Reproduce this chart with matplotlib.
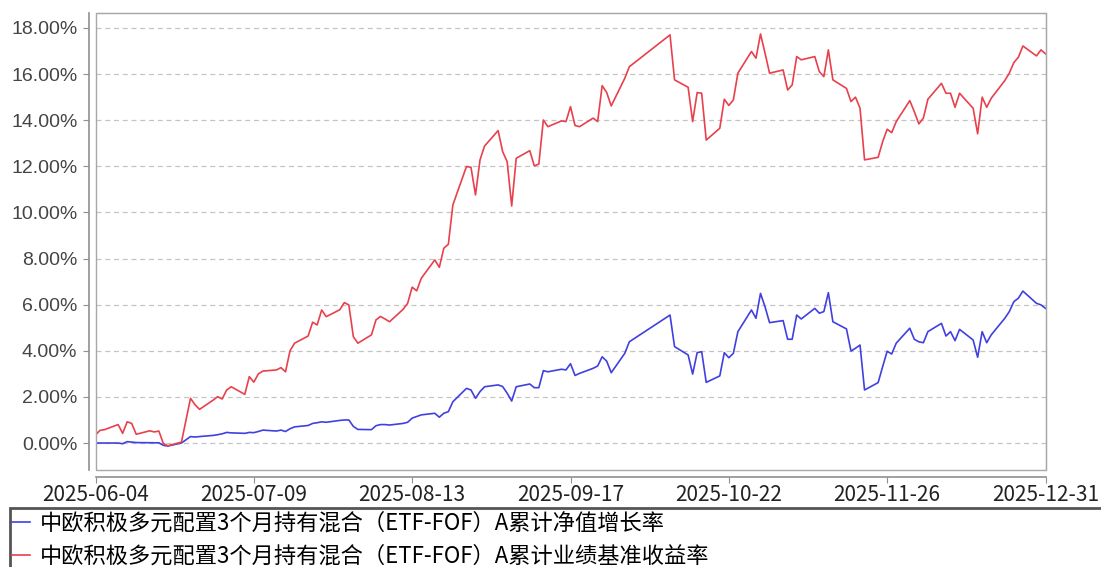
import numpy as np
import pandas as pd
import matplotlib
matplotlib.use("Agg")
import matplotlib.pyplot as plt
import matplotlib.dates as mdates
from matplotlib.patches import Rectangle
from matplotlib.ticker import FuncFormatter

plt.rcParams['font.family'] = ['Noto Sans CJK SC', 'DejaVu Sans']

# trading days 2025-06-04 .. 2025-12-31 (National Day break 10-01 .. 10-08 closed)
trade_days = pd.bdate_range('2025-06-04', '2025-12-31')
trade_days = trade_days[(trade_days < '2025-10-01') | (trade_days > '2025-10-08')]

# cumulative NAV growth (%)
nav_growth = [
    # Jun
    0.00, 0.00, 0.00, 0.00, -0.03, 0.06, 0.04, 0.02, 0.01, 0.01, 0.01, -0.10, -0.13, 0.00, 0.14, 0.28, 0.26, 0.28, 0.33,
    # Jul
    0.36, 0.40, 0.46, 0.44, 0.42, 0.46, 0.45, 0.50, 0.56, 0.52, 0.56, 0.50, 0.62, 0.70, 0.76, 0.85, 0.88, 0.92, 0.90,
    0.98, 1.00, 1.00, 0.72,
    # Aug
    0.59, 0.58, 0.75, 0.80, 0.80, 0.78, 0.85, 0.90, 1.08, 1.15, 1.22, 1.29, 1.12, 1.29, 1.36, 1.79, 2.37, 2.30, 1.94,
    2.23, 2.44,
    # Sep
    2.52, 2.45, 2.16, 1.82, 2.44, 2.56, 2.40, 2.40, 3.14, 3.09, 3.20, 3.17, 3.44, 2.93, 3.02, 3.24, 3.34, 3.74, 3.55,
    3.05, 3.89, 4.39,
    # Oct
    5.55, 4.18, 3.82, 2.99, 3.92, 3.96, 2.63, 2.91, 3.92, 3.70, 3.89, 4.83, 5.77, 5.41, 6.49, 5.91, 5.22,
    # Nov
    5.31, 4.50, 4.50, 5.55, 5.38, 5.84, 5.63, 5.70, 6.52, 5.26, 4.95, 3.99, 4.11, 4.25, 2.30, 2.62, 3.31, 3.98, 3.86,
    4.33,
    # Dec
    4.98, 4.50, 4.39, 4.35, 4.83, 5.19, 4.64, 4.83, 4.44, 4.93, 4.47, 3.72, 4.83, 4.35, 4.69, 5.41, 5.70, 6.13, 6.28,
    6.59, 6.06, 5.99, 5.84,
]

# cumulative benchmark return (%)
bench_return = [
    # Jun
    0.35, 0.55, 0.58, 0.80, 0.42, 0.92, 0.85, 0.38, 0.53, 0.48, 0.52, -0.02, -0.12, 0.04, 0.99, 1.94, 1.66, 1.46, 1.86,
    # Jul
    2.01, 1.91, 2.30, 2.44, 2.11, 2.88, 2.64, 3.00, 3.12, 3.17, 3.27, 3.09, 4.00, 4.33, 4.64, 5.24, 5.12, 5.77, 5.48,
    5.78, 6.09, 5.99, 4.61,
    # Aug
    4.33, 4.69, 5.34, 5.49, 5.38, 5.26, 5.80, 6.06, 6.76, 6.60, 7.14, 7.94, 7.62, 8.45, 8.62, 10.33, 11.99, 11.96,
    10.76, 12.28, 12.88,
    # Sep
    13.55, 12.64, 12.20, 10.28, 12.35, 12.68, 12.02, 12.10, 14.01, 13.72, 13.97, 13.94, 14.59, 13.77, 13.72, 14.09,
    13.94, 15.50, 15.20, 14.62, 15.82, 16.32,
    # Oct
    17.70, 15.75, 15.43, 13.94, 15.20, 15.17, 13.14, 13.65, 14.91, 14.64, 14.88, 16.04, 16.98, 16.69, 17.74, 16.91,
    16.04,
    # Nov
    16.18, 15.31, 15.53, 16.76, 16.62, 16.76, 16.11, 15.89, 17.05, 15.75, 15.38, 14.81, 15.00, 14.52, 12.28, 12.39,
    13.07, 13.61, 13.46, 13.94,
    # Dec
    14.85, 14.37, 13.84, 14.09, 14.91, 15.60, 15.17, 15.17, 14.56, 15.17, 14.52, 13.41, 15.00, 14.56, 14.95, 15.72,
    16.04, 16.50, 16.73, 17.22, 16.79, 17.05, 16.88,
]

labels = ['中欧积极多元配置3个月持有混合（ETF-FOF）A累计净值增长率',
          '中欧积极多元配置3个月持有混合（ETF-FOF）A累计业绩基准收益率']
tick_dates = ['2025-06-04', '2025-07-09', '2025-08-13', '2025-09-17', '2025-10-22', '2025-11-26', '2025-12-31']
y_ticks = [0, 2, 4, 6, 8, 10, 12, 14, 16, 18]

W, H = 1101, 567
fig = plt.figure(figsize=(W / 100, H / 100), dpi=100)
ax = fig.add_axes([95.5 / W, 1 - 470 / H, 950 / W, 457 / H])

l1, = ax.plot(trade_days, nav_growth, color='#4040e0', lw=1.2)
l2, = ax.plot(trade_days, bench_return, color='#e8404c', lw=1.2)

ax.set_xlim(pd.Timestamp('2025-06-04'), pd.Timestamp('2025-12-31'))
ax.set_ylim(-1.17, 18.65)

ax.set_yticks(y_ticks)
ax.yaxis.set_major_formatter(FuncFormatter(lambda v, p: '%.2f%%' % v))
ax.set_xticks(pd.to_datetime(tick_dates))
ax.xaxis.set_major_formatter(mdates.DateFormatter('%Y-%m-%d'))

ax.grid(axis='y', color='#c4c4c4', ls=(0, (4, 3)), lw=0.9)
ax.set_axisbelow(True)

for s in ['top', 'right']:
    ax.spines[s].set_color('#a8a8a8')
for s in ['left', 'bottom']:
    ax.spines[s].set_position(('outward', 5))
    ax.spines[s].set_color('#909090')
    ax.spines[s].set_linewidth(1.2)
ax.add_patch(Rectangle((0, 0), 1, 1, transform=ax.transAxes, fill=False,
                       edgecolor='#a8a8a8', lw=1, clip_on=False, zorder=3))

ax.tick_params(axis='y', length=4, color='#909090', labelsize=14, labelcolor='#444444', pad=4)
ax.tick_params(axis='x', length=4, color='#909090', labelsize=15, labelcolor='#222222', pad=1)
for t in ax.get_yticklabels():
    t.set_family(['Liberation Sans', 'DejaVu Sans'])

# legend box below the chart
fig.add_artist(Rectangle((10 / W, -0.1), 1.2, (1 - 508 / H) + 0.1, transform=fig.transFigure,
                         fill=False, edgecolor='#555555', lw=2))
fig.legend([l1, l2], labels, loc='upper left', bbox_to_anchor=(12 / W, 1 - 512 / H),
           bbox_transform=fig.transFigure, frameon=False, fontsize=16, handlelength=0.8,
           handletextpad=0.45, labelspacing=0.45, borderaxespad=0, borderpad=0)

fig.savefig('out.png', dpi=100)
